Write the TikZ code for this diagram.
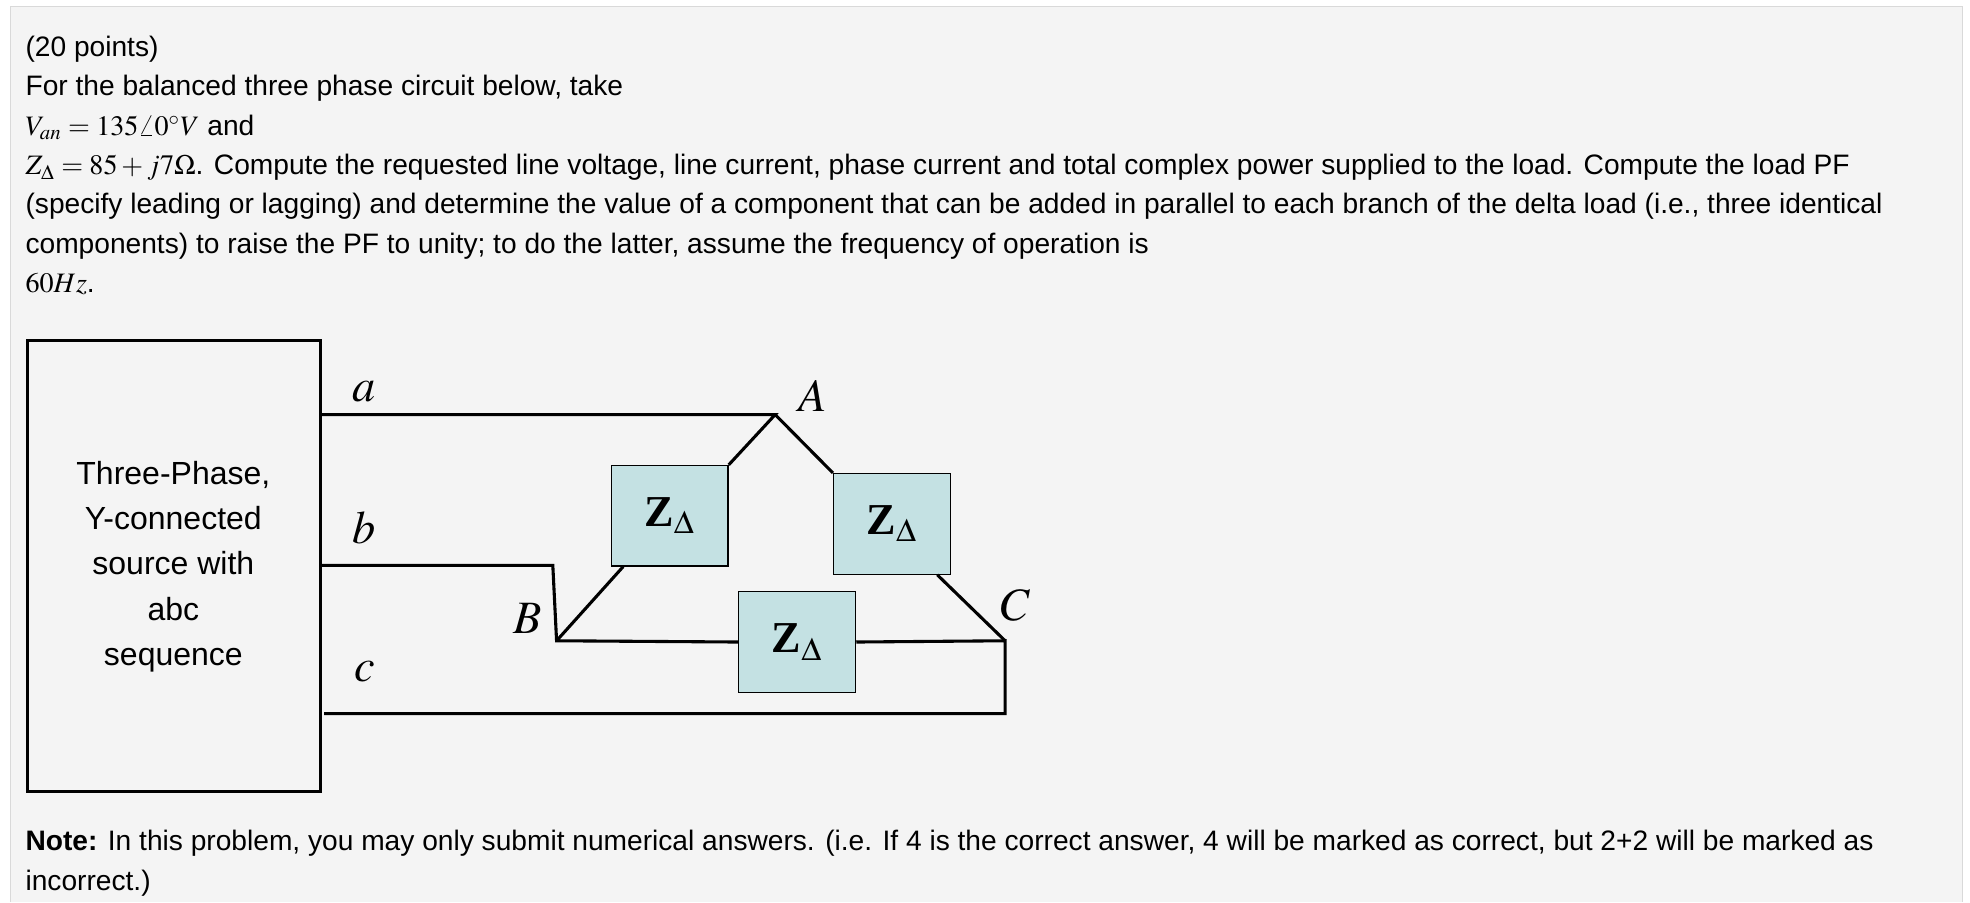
\documentclass[tikz,border=0pt]{standalone}
\usepackage{mathptmx}
\usepackage{fontspec}
\setmainfont{Liberation Sans}
\newfontfamily\serifz{Liberation Serif}
\usetikzlibrary{positioning}
\definecolor{pagegray}{HTML}{F4F4F4}
\definecolor{zfill}{HTML}{C4E1E3}
\tikzset{
  txt/.style={anchor=base west, inner sep=0pt, font=\fontsize{12.75}{15}\selectfont},
  wire/.style={line width=1.4pt, line join=miter},
  zbox/.style={draw, fill=zfill, line width=0.6pt, inner sep=0pt, minimum width=1.86cm, minimum height=1.6cm, font=\serifz\bfseries\fontsize{20}{20}\selectfont},
  lbl/.style={inner sep=0pt, font=\fontsize{21}{21}\selectfont},
  srctxt/.style={inner sep=0pt, font=\fontsize{14.5}{14.5}\selectfont}
}
\begin{document}
\begin{tikzpicture}[x=0.02cm,y=-0.02cm]
  \useasboundingbox (0,0) rectangle (1568,718);
  \fill[pagegray] (8,5) rectangle (1562,718);
  \draw[gray!30] (8,718) -- (8,5) -- (1562,5) -- (1562,718);
  % question text
  \node[txt] (t1) at (20,45) {(20 points)};
  \node[txt] (t2) at (20,76) {For the balanced three phase circuit below, take};
  \node[txt] (t3) at (20,108) {$V_{an}=135\angle0^{\circ}V$ and};
  \node[txt] (t4) at (20,139) {$Z_{\Delta}=85+j7\Omega$. Compute the requested line voltage, line current, phase current and total complex power supplied to the load. Compute the load PF};
  \node[txt] (t5) at (20,170) {(specify leading or lagging) and determine the value of a component that can be added in parallel to each branch of the delta load (i.e., three identical};
  \node[txt] (t6) at (20,202) {components) to raise the PF to unity; to do the latter, assume the frequency of operation is};
  \node[txt] (t7) at (20,233) {$60Hz$.};
  \node[txt] (n1) at (20,677) {\textbf{Note:} In this problem, you may only submit numerical answers. (i.e. If 4 is the correct answer, 4 will be marked as correct, but 2+2 will be marked as};
  \node[txt] (n2) at (20,709) {incorrect.)};
  % source
  \draw[wire] (22,271) rectangle (255,630);
  \node[srctxt, align=center] (src) at (138,451) {Three-Phase,\\[6pt]Y-connected\\[6pt]source with\\[6pt]abc\\[6pt]sequence};
  % load nodes
  \coordinate (A) at (617,330);
  \coordinate (B) at (443,510);
  \coordinate (C) at (800,510);
  \coordinate (aout) at (255,330);
  \coordinate (bout) at (255,450);
  \coordinate (bcor) at (440,450);
  \coordinate (cout) at (258,568);
  \coordinate (ccor) at (800,568);
  \node[zbox] (ZAB) at (533,410.5) {Z$_{\Delta}$};
  \node[zbox] (ZCA) at (710,417) {Z$_{\Delta}$};
  \node[zbox] (ZBC) at (634.5,511) {Z$_{\Delta}$};
  % wires
  \draw[wire] (aout) -- (A) -- (ZAB.north east);
  \draw[wire] (ZAB.south west) ++(10,0) -- (B);
  \draw[wire] (A) -- (ZCA.north west);
  \draw[wire] (ZCA.south east) ++(-11,0) -- (C);
  \draw[wire] (bout) -- (bcor) -- (B) -- (ZBC.west);
  \draw[wire] (ZBC.east) -- (C) -- (ccor) -- (cout);
  % labels
  \node[lbl] (la) at (290,312) {$a$};
  \node[lbl] (lb) at (290,420) {$b$};
  \node[lbl] (lc) at (290,535) {$c$};
  \node[lbl] (lA) at (647,315) {$A$};
  \node[lbl] (lB) at (420,492) {$B$};
  \node[lbl] (lC) at (808,482) {$C$};
\end{tikzpicture}
\end{document}
